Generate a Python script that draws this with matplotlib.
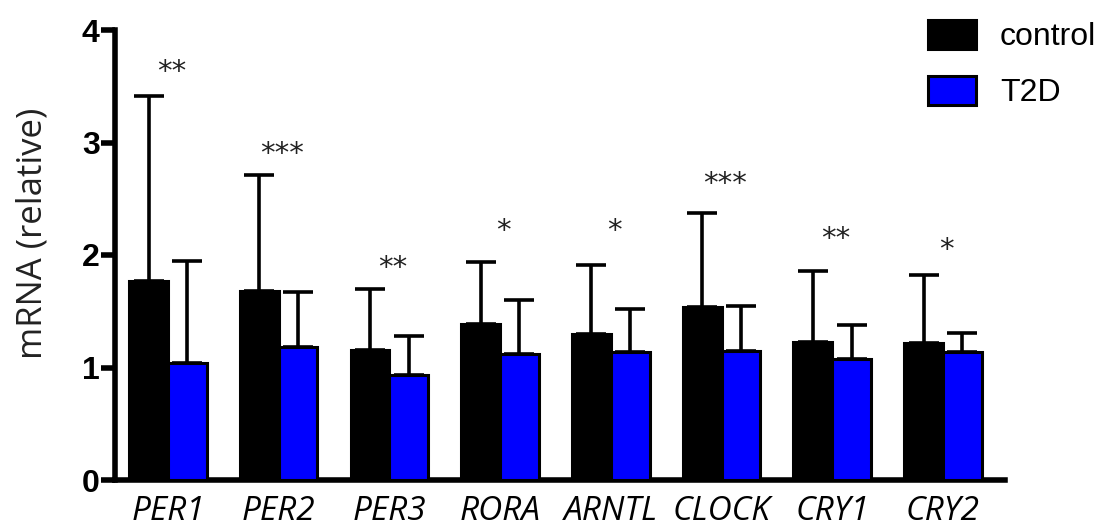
import numpy as np
import matplotlib
matplotlib.use('Agg')
import matplotlib.pyplot as plt

genes = ['PER1', 'PER2', 'PER3', 'RORA', 'ARNTL', 'CLOCK', 'CRY1', 'CRY2']
control = [1.77, 1.68, 1.16, 1.39, 1.30, 1.54, 1.23, 1.22]
control_err = [1.64, 1.03, 0.54, 0.55, 0.61, 0.83, 0.63, 0.60]
t2d = [1.04, 1.18, 0.93, 1.12, 1.14, 1.15, 1.08, 1.14]
t2d_err = [0.91, 0.49, 0.35, 0.48, 0.38, 0.40, 0.30, 0.17]
stars = ['**', '***', '**', '*', '*', '***', '**', '*']
star_y = [3.63, 2.90, 1.88, 2.21, 2.21, 2.63, 2.14, 2.04]

W, H = 1111, 531
fig = plt.figure(figsize=(W / 100, H / 100), dpi=100)
ax = fig.add_axes([115 / W, (H - 480) / H, 890 / W, 450 / H])

x = np.arange(len(genes))
bw = 0.35
lw = 2.2
ekw = dict(elinewidth=2.6, capsize=11, capthick=2.6, ecolor='black')
ax.bar(x - bw / 2, control, bw, color='black', edgecolor='black', linewidth=lw,
       yerr=[np.zeros(len(genes)), control_err], error_kw=ekw,
       label='control', zorder=3)
ax.bar(x + bw / 2, t2d, bw, color='#0000ff', edgecolor='black', linewidth=lw,
       yerr=[np.zeros(len(genes)), t2d_err], error_kw=ekw,
       label='T2D', zorder=3)

for i, (s, yy) in enumerate(zip(stars, star_y)):
    ax.text(x[i] + 0.03, yy, s, ha='center', va='center', fontsize=21,
            color='#222222', family='DejaVu Sans')

ax.set_xlim(-0.479, 7.561)
ax.set_ylim(0, 4)
ax.set_yticks([0, 1, 2, 3, 4])
ax.set_xticks(x)
ax.set_xticklabels(genes, fontstyle='italic', family='Open Sans', fontsize=24)
for lab in ax.get_yticklabels():
    lab.set_family('Liberation Sans')
    lab.set_fontweight('bold')
    lab.set_fontsize(23)
ax.tick_params(axis='y', length=10, width=4, pad=1)
ax.tick_params(axis='x', length=0, pad=11)
ax.spines['top'].set_visible(False)
ax.spines['right'].set_visible(False)
ax.spines['left'].set_linewidth(4)
ax.spines['bottom'].set_linewidth(4)
ax.set_ylabel('mRNA (relative)', family='Open Sans', fontsize=25,
              color='#222222')
ax.yaxis.set_label_coords(-0.093, 0.547)
ax.yaxis.label.set_va('center')

leg = ax.legend(loc='upper left', bbox_to_anchor=(928 / W, 1 - 20 / H),
                bbox_transform=fig.transFigure, frameon=False, borderpad=0,
                borderaxespad=0, handlelength=1.5, handleheight=1.0,
                labelspacing=0.75, handletextpad=0.75,
                prop={'family': 'Liberation Sans', 'size': 23})

fig.savefig('out.png', dpi=100)
